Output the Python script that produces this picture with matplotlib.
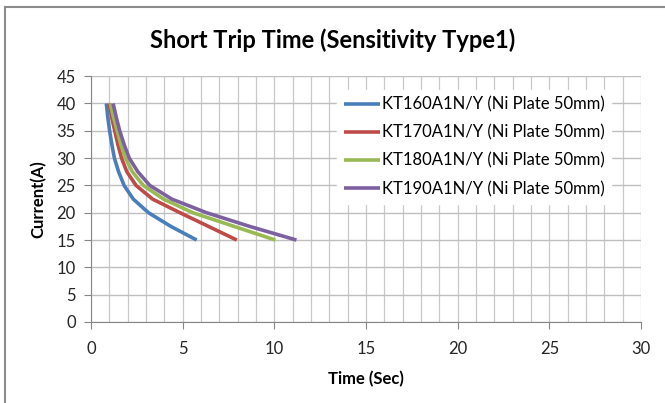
import matplotlib
matplotlib.use("Agg")
import matplotlib.pyplot as plt
from matplotlib.lines import Line2D
from matplotlib.ticker import MultipleLocator

plt.rcParams['font.family'] = ['Lato', 'DejaVu Sans']

# current steps (A)
current = [40, 37.5, 35, 32.5, 30, 27.5, 25, 22.5, 20, 17.5, 15]

# trip time (sec) for each model
t_kt160 = [0.83, 0.91, 1.01, 1.13, 1.27, 1.5, 1.8, 2.3, 3.13, 4.35, 5.76]
t_kt170 = [0.98, 1.12, 1.29, 1.46, 1.66, 1.95, 2.45, 3.35, 4.85, 6.4, 7.95]
t_kt180 = [1.05, 1.22, 1.42, 1.62, 1.87, 2.25, 2.85, 3.95, 5.55, 7.8, 10.05]
t_kt190 = [1.2, 1.37, 1.56, 1.8, 2.08, 2.55, 3.2, 4.4, 6.3, 8.65, 11.2]

labels = ["KT160A1N/Y (Ni Plate 50mm)", "KT170A1N/Y (Ni Plate 50mm)",
          "KT180A1N/Y (Ni Plate 50mm)", "KT190A1N/Y (Ni Plate 50mm)"]
colors = ["#4A7EBB", "#BE4B48", "#98B954", "#7D60A0"]

fig = plt.figure(figsize=(6.65, 4.03), dpi=100)
ax = fig.add_axes([0.137, 0.201, 0.827, 0.610])

for t, lab, c in zip([t_kt160, t_kt170, t_kt180, t_kt190], labels, colors):
    ax.plot(t, current, color=c, lw=2.6, label=lab,
            solid_capstyle='butt', solid_joinstyle='round')

ax.set_xlim(0, 30)
ax.set_ylim(0, 45)
ax.xaxis.set_major_locator(MultipleLocator(5))
ax.xaxis.set_minor_locator(MultipleLocator(1))
ax.yaxis.set_major_locator(MultipleLocator(5))

ax.grid(which='major', axis='y', color='#bfbfbf', lw=1.0)
ax.grid(which='both', axis='x', color='#c8c8c8', lw=0.9)
ax.set_axisbelow(True)

for s in ['top', 'right']:
    ax.spines[s].set_visible(False)
for s in ['left', 'bottom']:
    ax.spines[s].set_color('#868686')
ax.tick_params(which='major', direction='out', length=5, color='#868686',
               labelsize=12, labelcolor='#262626')
ax.tick_params(axis='x', pad=9)
ax.tick_params(axis='y', pad=6)
ax.tick_params(which='minor', length=0)

ax.set_xlabel("Time (Sec)", fontsize=12, fontweight='bold', labelpad=10)
ax.set_ylabel("Current(A)", fontsize=12, fontweight='bold', labelpad=7)
fig.text(0.5, 0.9, "Short Trip Time (Sensitivity Type1)", ha='center',
         va='center', fontsize=17, fontweight='bold')

leg = ax.legend(loc='upper right', bbox_to_anchor=(0.955, 0.965), frameon=True,
                fontsize=12, handlelength=2.2, handletextpad=0.1,
                labelspacing=0.72, borderaxespad=0.3, fancybox=False)
leg.get_frame().set_edgecolor('white')
leg.get_frame().set_facecolor('white')
leg.get_frame().set_alpha(1.0)

# partial chart border (left and top)
fig.add_artist(Line2D([4.5 / 665, 4.5 / 665], [0, 1 - 6.5 / 403],
                      color='#8c8c8c', lw=1.5))
fig.add_artist(Line2D([4.5 / 665, 1], [1 - 6.5 / 403, 1 - 6.5 / 403],
                      color='#8c8c8c', lw=1.5))

fig.savefig("out.png", dpi=100)
